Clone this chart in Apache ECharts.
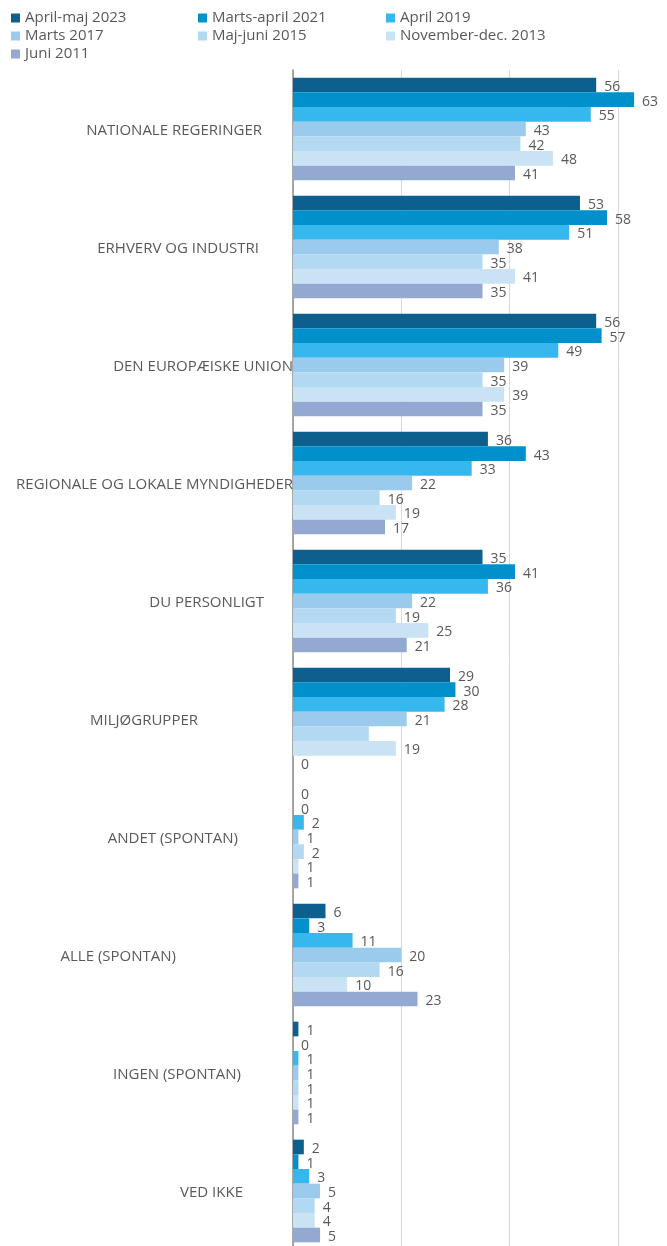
<!DOCTYPE html>
<html>
<head>
<meta charset="utf-8">
<script src="https://cdn.jsdelivr.net/npm/echarts@6/dist/echarts.min.js"></script>
<style>
  html, body { margin: 0; padding: 0; background: #fff; }
  #chart { width: 667px; height: 1246px; }
</style>
</head>
<body>
<div id="chart"></div>
<script>
// kategorier (top til bund)
var categories = [
  "NATIONALE REGERINGER",
  "ERHVERV OG INDUSTRI",
  "DEN EUROPÆISKE UNION",
  "REGIONALE OG LOKALE MYNDIGHEDER",
  "DU PERSONLIGT",
  "MILJØGRUPPER",
  "ANDET (SPONTAN)",
  "ALLE (SPONTAN)",
  "INGEN (SPONTAN)",
  "VED IKKE"
];
var seriesNames = [
  "April-maj 2023",
  "Marts-april 2021",
  "April 2019",
  "Marts 2017",
  "Maj-juni 2015",
  "November-dec. 2013",
  "Juni 2011"
];
var aprMaj2023 = [56, 53, 56, 36, 35, 29, 0, 6, 1, 2];
var martsApr2021 = [63, 58, 57, 43, 41, 30, 0, 3, 0, 1];
var april2019 = [55, 51, 49, 33, 36, 28, 2, 11, 1, 3];
var marts2017 = [43, 38, 39, 22, 22, 21, 1, 20, 1, 5];
var majJuni2015 = [42, 35, 35, 16, 19, 14, 2, 16, 1, 4];
var novDec2013 = [48, 41, 39, 19, 25, 19, 1, 10, 1, 4];
var juni2011 = [41, 35, 35, 17, 21, 0, 1, 23, 1, 5];

var allValues = [aprMaj2023, martsApr2021, april2019, marts2017, majJuni2015, novDec2013, juni2011];
var colors = ["#0d5f8e", "#0090cc", "#36b7ee", "#9acbec", "#b2d8f2", "#c9e3f5", "#93a9d1"];

// afstand fra tekstens højre kant til aksen (som i forlægget)
var labelGap = [32, 35, 1, 1, 30, 96, 56, 118, 53, 51];

var myChart = echarts.init(document.getElementById("chart"));

var rich = {};
labelGap.forEach(function (g, i) {
  rich["c" + i] = { padding: [4, g - 1, 0, 0], color: "#595959", fontSize: 15, fontFamily: "Open Sans" };
});

var series = seriesNames.map(function (name, s) {
  return {
    name: name,
    type: "bar",
    barGap: "0%",
    barCategoryGap: "13%",
    itemStyle: { color: colors[s] },
    label: {
      show: true,
      position: "right",
      distance: 8,
      offset: [0, 2],
      color: "#595959",
      fontSize: 14,
      fontFamily: "Open Sans"
    },
    data: allValues[s].map(function (v, i) {
      // Maj-juni 2015 / miljøgrupper har ingen dataetiket i forlægget
      if (s === 4 && i === 5) return { value: v, label: { show: false } };
      return v;
    })
  };
});

var legendText = { color: "#595959", fontSize: 15, fontFamily: "Open Sans", lineHeight: 16 };
function col(left, names) {
  return {
    orient: "vertical",
    left: left,
    top: 5,
    itemGap: 2,
    itemWidth: 9,
    itemHeight: 9,
    icon: "rect",
    textStyle: legendText,
    data: names
  };
}

var option = {
  animation: false,
  legend: [
    col(6, [seriesNames[0], seriesNames[3], seriesNames[6]]),
    col(193, [seriesNames[1], seriesNames[4]]),
    col(381, [seriesNames[2], seriesNames[5]])
  ],
  grid: { left: 293, top: 70, width: 379, height: 1180, outerBoundsMode: "none" },
  xAxis: {
    type: "value",
    min: 0,
    max: 70,
    interval: 20,
    axisLabel: { show: false },
    axisLine: { show: false },
    axisTick: { show: false },
    splitLine: { lineStyle: { color: "#d9d9d9", width: 1 } }
  },
  yAxis: {
    type: "category",
    inverse: true,
    data: categories,
    axisTick: { show: false },
    axisLine: { lineStyle: { color: "#8c8c8c", width: 1.5 } },
    axisLabel: {
      margin: 0,
      formatter: function (v, i) { return "{c" + i + "|" + v + "}"; },
      rich: rich
    }
  },
  series: series
};

option && myChart.setOption(option);
</script>
</body>
</html>
